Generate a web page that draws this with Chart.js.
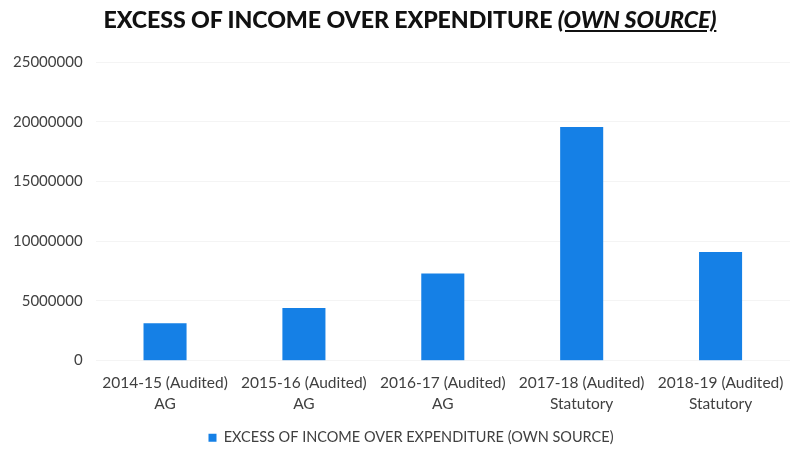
<!DOCTYPE html>
<html>
<head>
<meta charset="utf-8">
<script src="https://cdn.jsdelivr.net/npm/chart.js@4.4.1/dist/chart.umd.min.js"></script>
<style>
  html, body { margin: 0; padding: 0; background: #fff; overflow: hidden; }
  #wrap { position: relative; width: 790px; height: 451px; }
  #title {
    position: absolute; left: 0; top: 5px; width: 820px; text-align: center;
    font-family: Lato, "Open Sans", sans-serif; font-weight: 900; font-size: 23.2px;
    color: #111; letter-spacing: -0.1px;
  }
  #title span { font-style: italic; text-decoration: underline; }
</style>
</head>
<body>
<div id="wrap">
  <div id="title">EXCESS OF INCOME OVER EXPENDITURE <span>(OWN SOURCE)</span></div>
  <canvas id="chart" width="790" height="451"></canvas>
</div>
<script>
  const categories = [
    ['2014-15 (Audited)', 'AG'],
    ['2015-16 (Audited)', 'AG'],
    ['2016-17 (Audited)', 'AG'],
    ['2017-18 (Audited)', 'Statutory'],
    ['2018-19 (Audited)', 'Statutory']
  ];
  const excessValues = [3130000, 4400000, 7300000, 19550000, 9100000];
  const yTicks = [0, 5000000, 10000000, 15000000, 20000000, 25000000];
  const seriesName = 'EXCESS OF INCOME OVER EXPENDITURE (OWN SOURCE)';

  // more room above the legend, and nudge its text lower / to the right
  const legendGap = {
    id: 'legendGap',
    beforeInit(chart) {
      const fit = chart.legend.fit;
      chart.legend.fit = function () {
        fit.bind(chart.legend)();
        this.height += 7;
      };
    },
    afterLayout(chart) {
      chart.legend.top += 6;
      chart.legend.bottom += 6;
      chart.legend.left += 16;
      chart.legend.right += 16;
    }
  };

  new Chart(document.getElementById('chart'), {
    type: 'bar',
    data: {
      labels: categories,
      datasets: [
        {
          label: seriesName,
          data: excessValues,
          backgroundColor: '#1580e6',
          categoryPercentage: 1,
          barPercentage: 0.31
        }
      ]
    },
    options: {
      responsive: false,
      animation: false,
      layout: { padding: { top: 62, left: 0, right: 0, bottom: -5 } },
      plugins: {
        legend: {
          position: 'bottom',
          labels: {
            boxWidth: 8,
            boxHeight: 8,
            padding: 6,
            color: '#404040',
            font: { family: 'Lato', size: 14.5 }
          }
        },
        tooltip: { enabled: false }
      },
      scales: {
        x: {
          grid: { display: false },
          border: { display: false },
          ticks: {
            color: '#404040',
            padding: 4,
            font: { family: 'Lato', size: 15.5, lineHeight: 1.35 },
            maxRotation: 0,
            autoSkip: false
          }
        },
        y: {
          min: 0,
          max: 25000000,
          afterBuildTicks: axis => { axis.ticks = yTicks.map(v => ({ value: v })); },
          grid: { color: '#f4f4f4', drawTicks: false },
          border: { display: false },
          ticks: {
            color: '#404040',
            padding: 13,
            font: { family: 'Lato', size: 15 },
            callback: v => String(v)
          }
        }
      }
    },
    plugins: [legendGap]
  });
</script>
</body>
</html>
